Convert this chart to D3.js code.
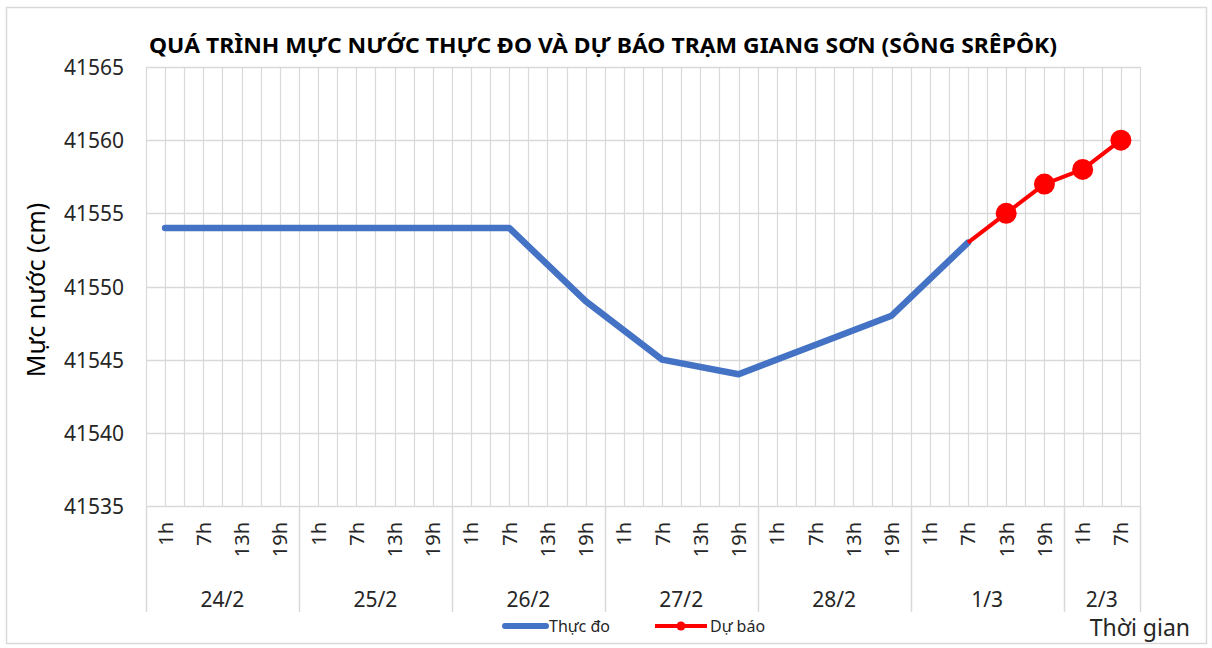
<!DOCTYPE html>
<html>
<head>
<meta charset="utf-8">
<script src="https://cdn.jsdelivr.net/npm/d3@7"></script>
<style>
  body { margin: 0; background: #fff; }
  text { font-family: "Noto Sans", "Open Sans", sans-serif; fill: #262626; }
</style>
</head>
<body>
<div id="chart"></div>
<script>
// các ngày và giờ trên trục X
var days = ["24/2", "25/2", "26/2", "27/2", "28/2", "1/3", "2/3"];
var dayHours = [
    ["1h", "7h", "13h", "19h"],
    ["1h", "7h", "13h", "19h"],
    ["1h", "7h", "13h", "19h"],
    ["1h", "7h", "13h", "19h"],
    ["1h", "7h", "13h", "19h"],
    ["1h", "7h", "13h", "19h"],
    ["1h", "7h"]
];
// mực nước thực đo (cm), null = không có số liệu
var thucDo = [41554, 41554, 41554, 41554, 41554, 41554, 41554, 41554, 41554, 41554,
    null, 41549, null, 41545, null, 41544, null, 41546, null, 41548,
    null, 41553, null, null, null, null];
// mực nước dự báo (cm)
var duBao = [null, null, null, null, null, null, null, null, null, null,
    null, null, null, null, null, null, null, null, null, null,
    null, 41553, 41555, 41557, 41558, 41560];
var yTicks = [41535, 41540, 41545, 41550, 41555, 41560, 41565];

(function () {
    var W = 1212, H = 648;
    var pLeft = 146, pRight = 1140, pTop = 67, pBottom = 506;

    var svg = d3.select("#chart").append("svg")
        .attr("width", W)
        .attr("height", H);

    // khung ngoài
    svg.append("rect")
        .attr("x", 6.5).attr("y", 7.5)
        .attr("width", 1200).attr("height", 636)
        .attr("fill", "#fff")
        .attr("stroke", "#d9d9d9")
        .attr("stroke-width", 1.5);

    // danh sách hạng mục
    var cats = [];
    days.forEach(function (d, i) {
        dayHours[i].forEach(function (h) {
            cats.push({ day: d, hour: h });
        });
    });

    var x = d3.scaleBand().domain(d3.range(cats.length)).range([pLeft, pRight]).padding(0);
    var y = d3.scaleLinear().domain([41535, 41565]).range([pBottom, pTop]);
    var bw = x.bandwidth();

    // lưới ngang
    svg.append("g").selectAll("line")
        .data(yTicks)
        .enter().append("line")
        .attr("x1", pLeft).attr("x2", pRight)
        .attr("y1", function (d) { return Math.round(y(d)) + 0.5; })
        .attr("y2", function (d) { return Math.round(y(d)) + 0.5; })
        .attr("stroke", "#d9d9d9").attr("stroke-width", 1.5);

    // lưới dọc (biên và giữa mỗi hạng mục)
    var vLines = [];
    cats.forEach(function (c, i) {
        vLines.push(x(i));
        vLines.push(x(i) + bw / 2);
    });
    vLines.push(pRight);
    svg.append("g").selectAll("line")
        .data(vLines)
        .enter().append("line")
        .attr("x1", function (d) { return Math.round(d) + 0.5; })
        .attr("x2", function (d) { return Math.round(d) + 0.5; })
        .attr("y1", pTop).attr("y2", pBottom)
        .attr("stroke", "#d9d9d9").attr("stroke-width", 1.2);

    // nhãn trục Y
    svg.append("g").selectAll("text")
        .data(yTicks)
        .enter().append("text")
        .attr("x", 124)
        .attr("y", function (d) { return y(d) + 8; })
        .attr("text-anchor", "end")
        .style("font-size", "21px")
        .text(function (d) { return d; });

    // nhãn giờ (xoay dọc)
    svg.append("g").selectAll("text")
        .data(cats)
        .enter().append("text")
        .attr("transform", function (d, i) {
            return "translate(" + (x(i) + bw / 2 + 7.5) + "," + 522 + ") rotate(-90)";
        })
        .attr("text-anchor", "end")
        .style("font-size", "20px")
        .text(function (d) { return d.hour; });

    // vạch phân ngày và nhãn ngày
    var idx = 0;
    var groups = [];
    days.forEach(function (d, i) {
        groups.push({ day: d, start: idx, end: idx + dayHours[i].length - 1 });
        idx += dayHours[i].length;
    });
    var sepX = groups.map(function (g) { return x(g.start); });
    sepX.push(pRight);
    svg.append("g").selectAll("line")
        .data(sepX)
        .enter().append("line")
        .attr("x1", function (d) { return Math.round(d) + 0.5; })
        .attr("x2", function (d) { return Math.round(d) + 0.5; })
        .attr("y1", pBottom).attr("y2", 612)
        .attr("stroke", "#d9d9d9").attr("stroke-width", 1.5);

    svg.append("g").selectAll("text")
        .data(groups)
        .enter().append("text")
        .attr("x", function (g) { return (x(g.start) + x(g.end) + bw) / 2; })
        .attr("y", 607)
        .attr("text-anchor", "middle")
        .style("font-size", "21px")
        .text(function (g) { return g.day; });

    // đường thực đo
    var line = d3.line()
        .x(function (d) { return x(d.i) + bw / 2; })
        .y(function (d) { return y(d.v); });

    var tdPts = thucDo.map(function (v, i) { return { i: i, v: v }; })
        .filter(function (d) { return d.v != null; });
    var dbPts = duBao.map(function (v, i) { return { i: i, v: v }; })
        .filter(function (d) { return d.v != null; });

    svg.append("path")
        .datum(tdPts)
        .attr("fill", "none")
        .attr("stroke", "#4472C4")
        .attr("stroke-width", 6.5)
        .attr("stroke-linejoin", "round")
        .attr("stroke-linecap", "round")
        .attr("d", line);

    // đường dự báo
    svg.append("path")
        .datum(dbPts)
        .attr("fill", "none")
        .attr("stroke", "#FF0000")
        .attr("stroke-width", 4)
        .attr("stroke-linejoin", "round")
        .attr("d", line);

    svg.append("g").selectAll("circle")
        .data(dbPts.filter(function (d) { return thucDo[d.i] == null; }))
        .enter().append("circle")
        .attr("cx", function (d) { return x(d.i) + bw / 2; })
        .attr("cy", function (d) { return y(d.v); })
        .attr("r", 10.5)
        .attr("fill", "#FF0000");

    // tiêu đề
    svg.append("text")
        .attr("x", 603)
        .attr("y", 53)
        .attr("text-anchor", "middle")
        .attr("textLength", 908)
        .attr("lengthAdjust", "spacingAndGlyphs")
        .style("font-size", "22px")
        .style("font-weight", "bold")
        .style("fill", "#000")
        .text("QUÁ TRÌNH MỰC NƯỚC THỰC ĐO VÀ DỰ BÁO TRẠM GIANG SƠN (SÔNG SRÊPÔK)");

    // tiêu đề trục Y
    svg.append("text")
        .attr("transform", "translate(45," + 290 + ") rotate(-90)")
        .attr("text-anchor", "middle")
        .style("font-size", "25px")
        .style("fill", "#000")
        .text("Mực nước (cm)");

    // tiêu đề trục X
    svg.append("text")
        .attr("x", 1190)
        .attr("y", 636)
        .attr("text-anchor", "end")
        .style("font-size", "23px")
        .text("Thời gian");

    // chú thích
    var lg = svg.append("g");
    lg.append("line")
        .attr("x1", 505).attr("x2", 546)
        .attr("y1", 626).attr("y2", 626)
        .attr("stroke", "#4472C4").attr("stroke-width", 6)
        .attr("stroke-linecap", "round");
    lg.append("text")
        .attr("x", 549).attr("y", 632)
        .style("font-size", "16px")
        .text("Thực đo");
    lg.append("line")
        .attr("x1", 655).attr("x2", 707)
        .attr("y1", 626).attr("y2", 626)
        .attr("stroke", "#FF0000").attr("stroke-width", 4);
    lg.append("circle")
        .attr("cx", 681).attr("cy", 626).attr("r", 4.5)
        .attr("fill", "#FF0000");
    lg.append("text")
        .attr("x", 710).attr("y", 632)
        .style("font-size", "16px")
        .text("Dự báo");
})();
</script>
</body>
</html>
